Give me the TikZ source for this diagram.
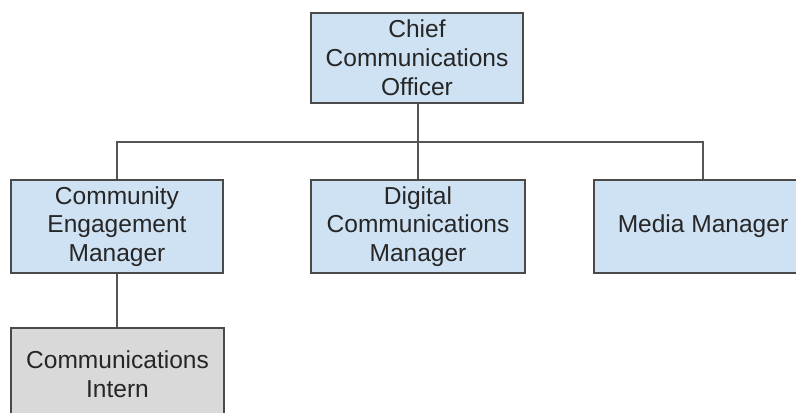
\documentclass[tikz,border=0pt]{standalone}
\usepackage{fontspec}
\setmainfont{Liberation Sans}
\definecolor{boxblue}{HTML}{CFE2F3}
\definecolor{boxgray}{HTML}{D9D9D9}
\definecolor{edgegray}{HTML}{4A4A4A}
\definecolor{linegray}{HTML}{555555}
\definecolor{textdark}{HTML}{262626}
\begin{document}
\begin{tikzpicture}[x=0.75pt,y=-0.75pt,
  orgbox/.style={draw=edgegray,line width=1.5pt,rectangle,inner sep=0pt,
    align=center,text=textdark,
    font=\fontsize{18.4pt}{21.6pt}\selectfont,
    minimum height=69.75pt},
  bluebox/.style={orgbox,fill=boxblue},
  graybox/.style={orgbox,fill=boxgray},
  conn/.style={draw=linegray,line width=1.5pt}]
\useasboundingbox (0,0) rectangle (796,412);
\clip (0,0) rectangle (796,412);
\node[bluebox,minimum width=159pt,minimum height=67.5pt] (cco) at (417,58) {Chief\\Communications\\Officer};
\node[bluebox,minimum width=159pt] (cem) at (117,226.5) {Community\\Engagement\\Manager};
\node[bluebox,minimum width=160.5pt] (dcm) at (418,226.5) {Digital\\Communications\\Manager};
\node[bluebox,minimum width=163.5pt] (mm) at (703,226.5) {Media Manager};
\node[graybox,minimum width=159.75pt] (ci) at (117.5,374) {Communications\\Intern};
\coordinate (j) at (418,142);
\draw[conn] (cco.south -| j) -- (j);
\draw[conn] (cem.north) |- (j);
\draw[conn] (mm.north) |- (j);
\draw[conn] (dcm.north) -- (j);
\draw[conn] (cem.south) -- (ci.north -| cem.south);
\end{tikzpicture}
\end{document}
